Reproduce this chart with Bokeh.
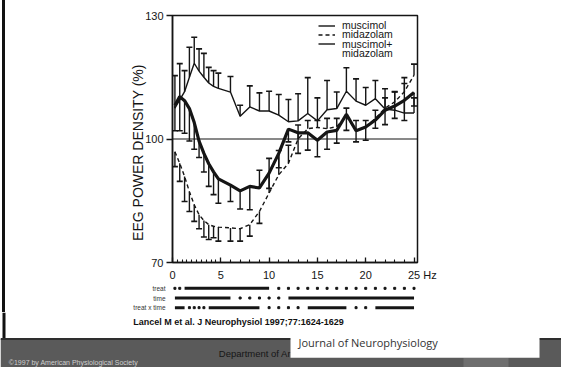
from bokeh.plotting import figure
from bokeh.models import (Range1d, FixedTicker, Span, Legend, LegendItem, Label,
                          BoxAnnotation, FactorRange)
from bokeh.embed import file_html
from bokeh.resources import INLINE

# ---------------- data ----------------
freq = [0.25, 0.75, 1.25, 1.75, 2.25, 2.75, 3.25, 3.75, 4.25, 4.75,
        6, 7, 8, 9, 10, 11, 12, 13, 14, 15, 16, 17, 18, 19, 20, 21, 22, 23, 24, 25]

muscimol = [107.5, 109.5, 111.5, 115.0, 118.4, 116.5, 115.0, 113.6, 112.8, 112.3,
            111.4, 105.5, 107.8, 106.8, 106.8, 105.8, 104.2, 104.4, 106.2, 104.4,
            107.1, 107.4, 111.6, 109.2, 108.2, 109.8, 107.3, 107.0, 106.3, 106.3]
muscimol_err = [115.4, 118.3, 116.6, 122.3, 124.7, 121.9, 120.8, 117.4, 116.6, 116.0,
                115.2, 108.2, 112.9, 111.2, 111.6, 110.8, 109.6, 111.0, 114.9, 110.0,
                114.2, 111.4, 117.3, 114.6, 112.5, 114.2, 112.2, 111.4, 114.9, 110.0]

midazolam = [96.9, 94.1, 90.9, 87.2, 84.0, 81.6, 80.2, 79.2, 78.8, 78.6,
             78.4, 78.2, 79.2, 82.4, 86.9, 91.3, 94.1, 100.0, 102.5, 102.8,
             102.5, 103.0, 105.5, 102.0, 103.0, 105.0, 107.5, 109.0, 111.5, 115.5]
midazolam_err = [93.3, 89.7, 84.8, 82.4, 80.0, 78.2, 76.2, 75.6, 76.0, 75.2,
                 75.2, 75.2, 76.4, 79.5, 95.3, 97.2, 98.5, 103.4, 104.5, 104.5,
                 105.0, 105.0, 107.5, 104.5, 104.5, 107.0, 110.0, 111.5, 113.5, 118.2]

combined = [108.2, 110.3, 109.3, 107.4, 104.0, 99.5, 96.5, 94.0, 92.0, 90.3,
            88.8, 87.4, 88.5, 88.1, 91.7, 96.5, 102.4, 101.5, 101.5, 99.7,
            101.7, 102.1, 106.0, 102.0, 102.9, 104.6, 107.0, 108.0, 109.4, 111.3]
combined_err = [102.0, 102.0, 101.4, 99.5, 97.5, 95.5, 92.0, 88.5, 86.5, 84.4,
                84.8, 83.0, 82.8, 92.4, 88.0, 93.0, 99.3, 96.5, 97.3, 95.7,
                97.5, 99.0, 102.1, 99.3, 99.7, 102.6, 103.5, 105.0, 104.5, 108.0]

# significance per frequency bin (1 = significant -> bar, 0 = dot)
sig_rows = ["treat x time", "time", "treat"]
sig_treat = [0, 0, 1, 1, 1, 1, 1, 1, 1, 1,
             1, 1, 1, 1, 1, 0, 0, 0, 0, 0, 0, 0, 0, 0, 0, 0, 0, 0, 0, 0]
sig_time = [1, 1, 1, 1, 1, 1, 1, 1, 1, 1,
            1, 0, 0, 0, 0, 0, 1, 1, 1, 1, 1, 1, 1, 1, 1, 1, 1, 1, 1, 1]
sig_inter = [1, 1, 1, 0, 0, 0, 0, 1, 1, 1,
             1, 1, 1, 1, 0, 0, 0, 0, 1, 1, 1, 1, 1, 0, 0, 1, 1, 1, 1, 1]

y_ticks = [70, 100, 130]
x_ticks = [0, 5, 10, 15, 20, 25]
x_minor = [0.5 * i for i in range(1, 10)] + list(range(6, 25))
x_tick_text = {25: "\u2002\u2002\u200225 Hz"}

y_label = "EEG POWER DENSITY (%)"
legend_labels = ["muscimol", "midazolam", "muscimol+", "midazolam"]
citation = "Lancel M et al. J Neurophysiol 1997;77:1624-1629"
journal = "Journal of Neurophysiology"
copyright_txt = "\u00a91997 by American Physiological Society"
dept_txt = "Department of Ar"

INK = "#151515"
FONT = "Liberation Sans"
SLIDE_EDGE = {"background": "linear-gradient(90deg, #ffffff 2px, #111111 2px, #111111 5px, #ffffff 5px)"}

# ---------------- main plot ----------------
p = figure(width=561, height=283, x_range=Range1d(0, 25.36), y_range=Range1d(70, 130),
           output_backend="svg", toolbar_location=None,
           min_border_left=172, min_border_right=144, min_border_top=15, min_border_bottom=20)
p.styles = SLIDE_EDGE
p.border_fill_alpha = 0
p.grid.visible = False
p.outline_line_color = INK
p.outline_line_width = 1.5
p.background_fill_color = "white"

p.yaxis.ticker = FixedTicker(ticks=y_ticks)
p.yaxis.major_tick_out = 6
p.yaxis.major_tick_in = 0
p.yaxis.minor_tick_out = 0
p.yaxis.minor_tick_in = 0
p.yaxis.axis_label = y_label + "\u00a0" * 7
p.yaxis.axis_label_text_font = FONT
p.yaxis.axis_label_text_font_style = "normal"
p.yaxis.axis_label_text_font_size = "14px"
p.yaxis.axis_label_text_color = INK
p.yaxis.axis_label_standoff = -4
p.yaxis.major_label_text_font = FONT
p.yaxis.major_label_text_font_size = "11px"
p.yaxis.major_label_text_color = INK
p.yaxis.major_label_standoff = 3

p.xaxis.ticker = FixedTicker(ticks=x_ticks, minor_ticks=x_minor)
p.xaxis.major_label_overrides = x_tick_text
p.xaxis.major_tick_in = 5
p.xaxis.major_tick_out = 0
p.xaxis.minor_tick_in = 3
p.xaxis.minor_tick_out = 0
p.xaxis.major_label_text_font = FONT
p.xaxis.major_label_text_font_size = "11px"
p.xaxis.major_label_text_color = INK
p.xaxis.major_label_standoff = 6

for ax in (p.xaxis, p.yaxis):
    ax.axis_line_color = INK
    ax.axis_line_width = 1.5
    ax.major_tick_line_color = INK
    ax.major_tick_line_width = 1.3
    ax.minor_tick_line_color = INK
    ax.minor_tick_line_width = 1.1

p.add_layout(Span(location=100, dimension="width", line_color=INK, line_width=1.2))

# error bars (from mean to mean +/- SEM, capped at the far end)
for mean, end in ((muscimol, muscimol_err), (midazolam, midazolam_err), (combined, combined_err)):
    p.segment(x0=freq, y0=mean, x1=freq, y1=end, line_color=INK, line_width=1.4)
    p.scatter(freq, end, marker="dash", size=6, line_color=INK, line_width=1.6)

r_mus = p.line(freq, muscimol, line_color=INK, line_width=1.4)
r_mid = p.line(freq, midazolam, line_color=INK, line_width=1.4, line_dash="4 3")
r_com = p.line(freq, combined, line_color=INK, line_width=3.2)
r_dummy = p.line(freq, combined, line_alpha=0)

# one single-row legend per line so the rows sit as tightly as in the original
legend_rows = [(legend_labels[0], r_mus, 231.0), (legend_labels[1], r_mid, 221.7),
               (legend_labels[2], r_mus, 212.3), (legend_labels[3], r_dummy, 202.7)]
for text, rend, vy in legend_rows:
    lg = Legend(items=[LegendItem(label=text, renderers=[rend])], location=(146, vy))
    lg.glyph_width = 17
    lg.glyph_height = 9
    lg.label_height = 9
    lg.spacing = 0
    lg.padding = 0
    lg.margin = 0
    lg.label_standoff = 7
    lg.border_line_color = None
    lg.background_fill_alpha = 0
    lg.label_text_font = FONT
    lg.label_text_font_size = "10.5px"
    lg.label_text_color = INK
    p.add_layout(lg)

# ---------------- significance rows ----------------
p2 = figure(width=561, height=29, x_range=p.x_range, y_range=FactorRange(factors=sig_rows),
            output_backend="svg", toolbar_location=None, x_axis_location=None,
            min_border_left=172, min_border_right=144, min_border_top=0, min_border_bottom=0)
p2.styles = SLIDE_EDGE
p2.border_fill_alpha = 0
p2.grid.visible = False
p2.outline_line_color = None
p2.yaxis.axis_line_color = None
p2.yaxis.major_tick_line_color = None
p2.yaxis.minor_tick_line_color = None
p2.yaxis.major_label_text_font = FONT
p2.yaxis.major_label_text_font_size = "6.5px"
p2.yaxis.major_label_text_color = "#333333"
p2.yaxis.major_label_standoff = 1

for row, sig in (("treat", sig_treat), ("time", sig_time), ("treat x time", sig_inter)):
    dots = [f for f, s in zip(freq, sig) if not s]
    p2.scatter(dots, [row] * len(dots), marker="square", size=2, color=INK)
    x0, x1 = [], []
    start = None
    for i, s in enumerate(sig):
        if s and start is None:
            start = i
        if start is not None and (not s or i == len(sig) - 1):
            end = i if s else i - 1
            x0.append(freq[start])
            x1.append(freq[end])
            start = None
    p2.segment(x0=x0, y0=[row] * len(x0), x1=x1, y1=[row] * len(x0),
               line_color=INK, line_width=3, line_cap="butt")

# ---------------- slide footer ----------------
p3 = figure(width=561, height=55, x_range=Range1d(0, 561), y_range=Range1d(0, 55),
            output_backend="svg", toolbar_location=None, min_border=0,
            x_axis_location=None, y_axis_location=None)
p3.grid.visible = False
p3.outline_line_color = None


def box(l, r, b, t, color):
    return BoxAnnotation(left=l, right=r, bottom=b, top=t, left_units="screen",
                         right_units="screen", bottom_units="screen", top_units="screen",
                         fill_color=color, fill_alpha=1, line_color=None)


p3.add_layout(box(2, 5, 28, 55, "#111111"))
p3.add_layout(Label(x=132.7, y=45.3, x_units="screen", y_units="screen", text=citation,
                    text_font=FONT, text_font_style="bold", text_font_size="9px",
                    text_color="#111111", text_baseline="middle"))
p3.add_layout(box(0, 561, 0, 28.5, "#5a5a5a"))
p3.add_layout(box(0, 561, 27.6, 29.4, "#2e2e2e"))
p3.add_layout(box(463, 508, 0, 9.7, "#6e6e6e"))
p3.add_layout(Label(x=218.3, y=13.7, x_units="screen", y_units="screen", text=dept_txt,
                    text_font=FONT, text_font_size="9.5px", text_color="#161616",
                    text_baseline="middle"))
p3.add_layout(Label(x=8.3, y=5.3, x_units="screen", y_units="screen", text=copyright_txt,
                    text_font=FONT, text_font_size="7px", text_color="#cfcfcf",
                    text_baseline="middle"))
p3.add_layout(box(290, 539, 9.7, 31, "#ffffff"))
p3.add_layout(Label(x=298, y=25.4, x_units="screen", y_units="screen", text=journal,
                    text_font="Open Sans", text_font_size="11px", text_color="#333333",
                    text_baseline="middle"))

open("out.html", "w").write(file_html([p, p2, p3], INLINE))
